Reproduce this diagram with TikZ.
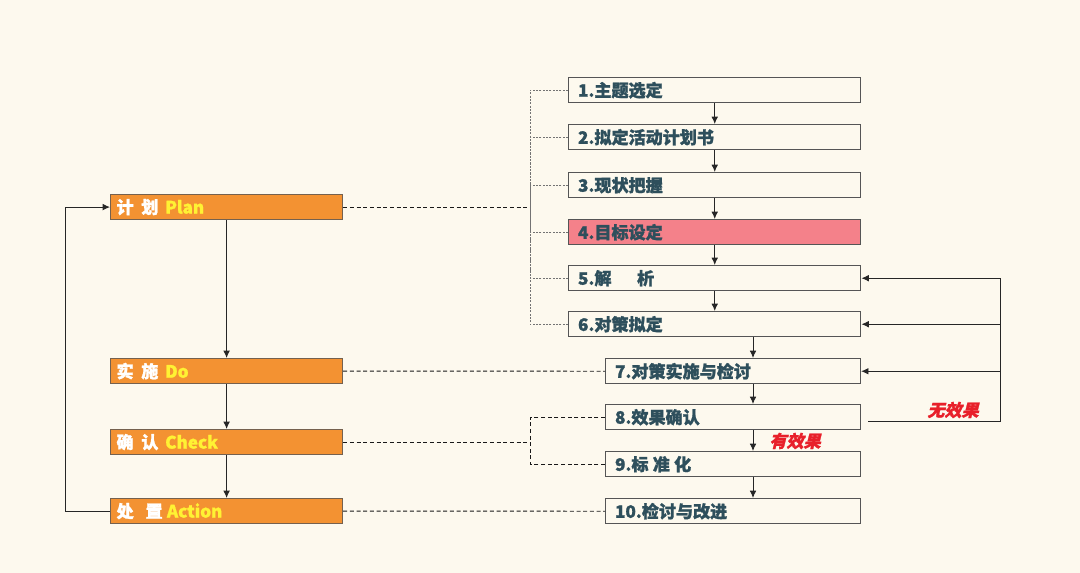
\documentclass[tikz,border=0pt]{standalone}
\usepackage{fontspec}
\setmainfont{Noto Sans CJK SC}[BoldFeatures={FakeBold=1.3}]
\newfontfamily\slantcjk[FakeSlant=0.25,BoldFeatures={FakeBold=1.3}]{Noto Sans CJK SC}
\usetikzlibrary{positioning,arrows.meta}
\definecolor{bgcol}{HTML}{FDF9EE}
\definecolor{phaseorange}{HTML}{F39232}
\definecolor{goalpink}{HTML}{F4818A}
\definecolor{steptext}{HTML}{2E4F5C}
\definecolor{plantext}{HTML}{FFF233}
\definecolor{boxline}{HTML}{555555}
\definecolor{effred}{HTML}{E8202A}
\tikzset{
  stepbox/.style={draw=boxline,line width=1.1pt,fill=bgcol,anchor=north west,
    minimum height=18.75pt,inner xsep=7pt,inner ysep=0pt,text width=#1,align=left,
    text=steptext,font=\bfseries\fontsize{12.8}{14}\selectfont},
  phasebox/.style={draw=boxline!80!phaseorange,line width=0.9pt,fill=phaseorange,anchor=north west,
    minimum height=18.75pt,inner xsep=4.5pt,inner ysep=0pt,text width=165pt,align=left,
    text=white,font=\bfseries\fontsize{12.8}{14}\selectfont},
  flow/.style={-{Latex[length=5.5pt,width=5pt]},line width=0.7pt,black!85},
  link/.style={line width=0.7pt,black!90,dash pattern=on 3pt off 2pt},
  guide/.style={line width=0.6pt,black!55,dash pattern=on 1.5pt off 1pt},
  fbnote/.style={text=effred,font=\slantcjk\bfseries\fontsize{12.8}{14}\selectfont}
}

\begin{document}
\begin{tikzpicture}[x=0.75pt,y=-0.75pt]
\fill[bgcol] (0,0) rectangle (1080,573);
\useasboundingbox (0,0) rectangle (1080,573);

% PDCA phases
\node[phasebox] (plan) at (110,194) {计\hspace{0.45em}划\hspace{0.4em}\textcolor{plantext}{Plan}};
\node[phasebox] (do) at (110,358) {实\hspace{0.45em}施\hspace{0.4em}\textcolor{plantext}{Do}};
\node[phasebox] (check) at (110,429) {确\hspace{0.45em}认\hspace{0.4em}\textcolor{plantext}{Check}};
\node[phasebox] (act) at (110,498) {处\hspace{0.7em}置\hspace{0.25em}\textcolor{plantext}{Action}};

% steps
\node[stepbox=205pt] (s1) at (568,77) {1.主题选定};
\node[stepbox=205pt] (s2) at (568,124) {2.拟定活动计划书};
\node[stepbox=205pt] (s3) at (568,172) {3.现状把握};
\node[stepbox=205pt,fill=goalpink] (s4) at (568,219) {4.目标设定};
\node[stepbox=205pt] (s5) at (568,265) {5.解\hspace{1.5em}析};
\node[stepbox=205pt] (s6) at (568,311) {6.对策拟定};
\node[stepbox=177pt] (s7) at (605,358) {7.对策实施与检讨};
\node[stepbox=177pt] (s8) at (605,404) {8.效果确认};
\node[stepbox=177pt] (s9) at (605,451) {9.标\hspace{0.25em}准\hspace{0.25em}化};
\node[stepbox=177pt] (s10) at (605,498) {10.检讨与改进};

\coordinate (pbus) at (530,207);
\coordinate (cbus) at (530,441);
\coordinate (spine) at (753,0);
\coordinate (fbc) at (1000,0);

\draw[flow] (plan.south) -- (do.north);
\draw[flow] (do.south) -- (check.north);
\draw[flow] (check.south) -- (act.north);
\draw[flow] (act.west) -- ++(-45,0) |- (plan.west);

\draw[link] (plan.east) -- (plan.east -| pbus);
\foreach \s in {s1,s2,s3,s4,s5,s6}
  \draw[guide] (\s.west) -| (pbus);
\draw[link] (do.east) -- (s7.west);
\draw[link] (check.east) -- (check.east -| cbus);
\draw[link] (s8.west) -| (check.east -| cbus);
\draw[link] (s9.west) -| (check.east -| cbus);
\draw[link] (act.east) -- (s10.west);

\draw[flow] (s1.south) -- (s2.north);
\draw[flow] (s2.south) -- (s3.north);
\draw[flow] (s3.south) -- (s4.north);
\draw[flow] (s4.south) -- (s5.north);
\draw[flow] (s5.south) -- (s6.north);
\draw[flow] (s6.south -| spine) -- (s7.north -| spine);
\draw[flow] (s7.south -| spine) -- (s8.north -| spine);
\draw[flow] (s8.south -| spine) -- (s9.north -| spine);
\draw[flow] (s9.south -| spine) -- (s10.north -| spine);

% no effect: back to analysis
\draw[flow] ([shift={(7,4.5)}]s8.east) -| (s5.east -| fbc) -- (s5.east);
\draw[flow] (s6.east -| fbc) -- (s6.east);
\draw[flow] (s7.east -| fbc) -- (s7.east);

\node[fbnote] (noeff) at (953,410) {无效果};
\node[fbnote] (yeseff) at (795,441) {有效果};
\end{tikzpicture}
\end{document}
